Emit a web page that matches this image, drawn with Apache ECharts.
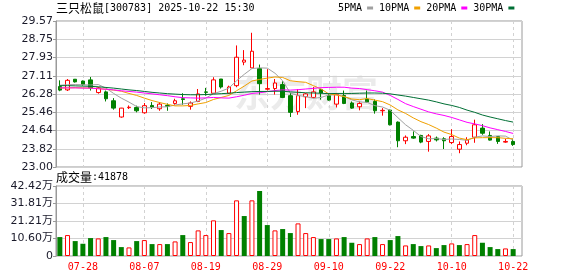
<!DOCTYPE html>
<html><head><meta charset="utf-8">
<script src="https://cdn.jsdelivr.net/npm/echarts@6/dist/echarts.min.js"></script>
<style>html,body{margin:0;padding:0;background:#fff}#c{width:578px;height:276px}</style>
</head><body><div id="c"></div>
<script>
const stockName = '三只松鼠';
const stockCode = '300783';
const stamp = '2025-10-22 15:30';
const dates = ['07-23','07-24','07-25','07-28','07-29','07-30','07-31','08-01','08-04','08-05','08-06','08-07','08-08','08-11','08-12','08-13','08-14','08-15','08-18','08-19','08-20','08-21','08-22','08-25','08-26','08-27','08-28','08-29','09-01','09-02','09-03','09-04','09-05','09-08','09-09','09-10','09-11','09-12','09-15','09-16','09-17','09-18','09-19','09-22','09-23','09-24','09-25','09-26','09-29','09-30','10-09','10-10','10-13','10-14','10-15','10-16','10-17','10-20','10-21','10-22'];
const opens = [26.62,26.47,26.95,26.87,26.92,26.35,26.38,25.98,25.25,25.67,25.68,25.44,25.77,25.62,25.77,25.86,26.07,25.73,25.95,26.38,26.32,26.96,26.32,26.66,27.72,27.46,27.43,26.50,26.53,26.71,26.21,25.50,26.16,26.13,26.48,26.21,25.83,26.22,25.88,25.71,26.06,25.95,25.53,25.56,25.02,24.18,24.37,24.42,24.15,24.30,24.27,24.10,23.80,24.07,24.34,24.75,24.42,24.37,24.12,24.15];
const closes = [26.46,26.90,26.83,26.71,26.56,26.56,26.07,25.65,25.65,25.69,25.53,25.76,25.70,25.83,25.73,25.98,26.04,25.88,26.29,26.36,26.92,26.60,26.60,27.94,27.81,28.21,26.75,26.53,26.78,26.13,25.46,26.21,26.29,26.38,26.33,26.01,26.26,25.86,25.65,25.86,25.92,25.53,25.55,24.90,24.18,24.34,24.30,24.12,24.40,24.22,24.18,24.37,24.01,24.22,24.90,24.52,24.21,24.15,24.15,24.01];
const lows = [26.41,26.42,26.80,26.66,26.44,26.30,25.95,25.58,25.22,25.61,25.46,25.40,25.61,25.53,25.53,25.80,25.80,25.58,25.92,26.21,26.29,26.53,26.29,26.59,27.58,27.46,26.26,26.44,26.26,26.10,25.25,25.35,25.65,26.10,26.03,25.98,25.68,25.83,25.62,25.55,25.89,25.40,25.31,24.87,23.89,24.03,24.27,24.07,23.69,24.15,23.81,24.03,23.62,23.98,24.09,24.45,24.19,24.04,24.09,23.95];
const highs = [26.90,26.96,26.96,26.89,27.05,26.59,26.44,26.10,25.66,25.77,25.76,25.88,25.92,25.92,25.86,26.07,26.32,25.95,26.51,26.56,27.04,26.96,26.66,28.47,28.26,29.04,27.61,27.40,26.96,26.86,26.33,26.51,26.33,26.60,26.51,26.33,26.33,26.44,25.95,25.95,26.44,26.04,25.65,25.58,25.05,24.42,24.60,24.45,24.48,24.37,24.34,24.70,24.15,24.34,25.13,24.93,24.60,24.37,24.27,24.27];
const volumes = [114700,126800,90400,74200,108600,106600,114700,96500,54000,52000,90400,96500,72200,72200,72200,88400,126800,84400,155200,126800,215900,157200,139000,337200,242200,337200,393900,187500,155200,163300,139000,197600,139000,114700,102600,102600,106600,114700,80300,72200,106600,114700,72200,96500,120800,64100,72200,60100,64100,47900,66200,76300,66200,72200,126800,80300,54000,41900,45900,41878];
const volUp = [0,1,0,0,0,1,0,0,0,1,0,1,0,1,0,1,0,1,1,1,1,0,1,1,0,1,0,0,1,0,0,1,1,1,0,0,1,0,0,1,1,0,1,0,0,1,0,0,1,0,0,1,0,1,1,0,0,0,1,0];
const ma5 = [26.68,26.70,26.71,26.70,26.69,26.71,26.55,26.31,26.10,25.92,25.72,25.66,25.67,25.70,25.71,25.79,25.84,25.88,25.97,26.10,26.30,26.41,26.55,26.88,27.17,27.43,27.46,27.45,27.22,26.88,26.33,26.22,26.17,26.09,26.13,26.24,26.25,26.17,26.02,25.93,25.91,25.76,25.70,25.55,25.22,24.90,24.65,24.37,24.27,24.28,24.24,24.26,24.24,24.20,24.34,24.40,24.37,24.40,24.39,24.21];
const ma10 = [26.55,26.56,26.57,26.56,26.55,26.53,26.50,26.46,26.41,26.31,26.22,26.10,25.99,25.90,25.82,25.75,25.75,25.77,25.84,25.90,26.04,26.13,26.22,26.43,26.64,26.87,26.94,27.00,27.05,27.03,26.88,26.84,26.81,26.66,26.51,26.29,26.24,26.17,26.06,26.03,26.08,26.01,25.94,25.79,25.57,25.41,25.21,25.04,24.91,24.75,24.57,24.46,24.30,24.23,24.31,24.32,24.32,24.32,24.29,24.27];
const ma20 = [26.56,26.56,26.56,26.55,26.55,26.52,26.50,26.47,26.43,26.40,26.37,26.33,26.29,26.25,26.21,26.16,26.12,26.11,26.10,26.11,26.13,26.11,26.10,26.16,26.23,26.31,26.34,26.39,26.44,26.47,26.46,26.48,26.51,26.54,26.57,26.58,26.59,26.59,26.55,26.53,26.48,26.43,26.37,26.22,26.04,25.85,25.72,25.60,25.48,25.39,25.32,25.23,25.12,25.01,24.94,24.86,24.76,24.68,24.60,24.51];
const ma30 = [26.66,26.66,26.65,26.64,26.63,26.61,26.58,26.55,26.51,26.47,26.44,26.40,26.36,26.33,26.30,26.28,26.26,26.25,26.25,26.26,26.28,26.30,26.32,26.35,26.37,26.39,26.40,26.40,26.41,26.41,26.38,26.36,26.34,26.33,26.32,26.30,26.31,26.31,26.31,26.32,26.33,26.33,26.32,26.29,26.24,26.19,26.13,26.07,26.01,25.93,25.84,25.77,25.68,25.56,25.46,25.34,25.25,25.17,25.09,25.02];
const priceTickLabels = ['23.00','23.82','24.64','25.46','26.28','27.11','27.93','28.75','29.57'];
const volTickLabels = ['0','10.60万','21.21万','31.81万','42.42万'];
const maNames = ['5PMA','10PMA','20PMA','30PMA'];

const UP = '#ff0000', DOWN = '#008000';
const GRID_LINE = '#d2d2d2', BORDER = '#9a9a9a';
const labelEvery = (i) => i % 8 === 3;
const yFont = "'DejaVu Sans','Noto Sans CJK SC',sans-serif";
const monoFont = "'DejaVu Sans Mono','Noto Sans CJK SC',monospace";
const cjkFont = "'Noto Sans CJK SC',sans-serif";

const candleData = dates.map((d, i) => [opens[i], closes[i], lows[i], highs[i]]);
const volData = volumes.map((v, i) => ({
  value: v,
  itemStyle: volUp[i] ? { color: '#ffffff', borderColor: UP, borderWidth: 1 } : { color: DOWN, borderWidth: 0 }
}));

const chart = echarts.init(document.getElementById('c'), null, { renderer: 'canvas' });
const dataX = (gridIndex, showLabels) => ({
  type: 'category', gridIndex, data: dates, boundaryGap: true,
  axisLine: { show: false }, axisTick: { show: false },
  axisLabel: { show: showLabels, interval: (i) => labelEvery(i), color: UP, fontFamily: monoFont, fontSize: 10, margin: 6 },
  splitLine: { show: true, interval: (i) => labelEvery(i), alignWithLabel: true, lineStyle: { color: GRID_LINE, type: [3, 3], width: 1 } }
});
const bgY = (gridIndex, max, labels) => ({
  type: 'value', gridIndex, min: 0, max: max, interval: 1, position: 'left',
  axisLine: { show: true, lineStyle: { color: BORDER } },
  axisTick: { show: true, length: 3, lineStyle: { color: BORDER } },
  axisLabel: { margin: 3, formatter: (v) => labels[Math.round(v)], fontFamily: yFont, fontSize: 11, color: '#1a1a2a' },
  splitLine: { show: true, lineStyle: { color: GRID_LINE, width: 1 } }
});
const maColors = ['#a0a0a0', '#f0a000', '#ff00ff', '#006f35'];
const maData = [ma5, ma10, ma20, ma30];
const richText = {
  a: { fontFamily: cjkFont, fontSize: 12, fontWeight: 'normal', color: '#000' },
  b: { fontFamily: monoFont, fontSize: 10, fontWeight: 'normal', color: '#000' }
};

chart.setOption({
  animation: false,
  backgroundColor: '#ffffff',
  title: [
    { left: 56, top: 2, padding: 0, text: '{a|' + stockName + '}{b|[' + stockCode + '] ' + stamp + '}',
      textStyle: { fontWeight: 'normal', rich: richText } },
    { left: 56, top: 171, padding: 0, text: '{a|成交量}{b|:' + volumes[volumes.length - 1] + '}',
      textStyle: { fontWeight: 'normal', rich: richText } }
  ],
  legend: {
    left: 338, top: 3, padding: 0, itemGap: 6, itemWidth: 6, itemHeight: 3, icon: 'rect', align: 'right',
    selectedMode: false, data: maNames,
    textStyle: { fontFamily: monoFont, fontSize: 10, color: '#000' }
  },
  graphic: [{ type: 'text', left: 234, top: 75, z: 0, silent: true,
    style: { text: '东方财富', fontSize: 36, fontWeight: 'bold', fontFamily: cjkFont, fill: '#ebebeb' } }],
  grid: [
    { left: 56, top: 21, width: 461, height: 146 },
    { left: 56, top: 186, width: 461, height: 70 },
    { left: 56, top: 21, width: 466, height: 146, show: true, borderColor: BORDER, borderWidth: 1, backgroundColor: 'transparent' },
    { left: 56, top: 186, width: 466, height: 70, show: true, borderColor: BORDER, borderWidth: 1, backgroundColor: 'transparent' }
  ],
  xAxis: [
    dataX(0, false),
    dataX(1, true),
    { type: 'value', gridIndex: 2, min: 0, max: 1, show: false },
    { type: 'value', gridIndex: 3, min: 0, max: 1, show: false }
  ],
  yAxis: [
    { type: 'value', gridIndex: 0, min: 23.00, max: 29.57, show: false, splitLine: { show: false } },
    { type: 'value', gridIndex: 1, min: 0, max: 424200, show: false, splitLine: { show: false } },
    bgY(2, 8, priceTickLabels),
    bgY(3, 4, volTickLabels)
  ],
  series: [
    { type: 'candlestick', name: 'K', xAxisIndex: 0, yAxisIndex: 0, data: candleData, barWidth: 4,
      itemStyle: { color: '#ffffff', color0: DOWN, borderColor: UP, borderColor0: DOWN, borderWidth: 1 } },
    ...maNames.map((n, k) => ({
      type: 'line', name: n, xAxisIndex: 0, yAxisIndex: 0, data: maData[k], symbol: 'none', showSymbol: false,
      lineStyle: { width: 1, color: maColors[k] }, itemStyle: { color: maColors[k] }, z: 3
    })),
    { type: 'bar', name: 'VOL', xAxisIndex: 1, yAxisIndex: 1, data: volData, barWidth: 5 }
  ]
});
</script></body></html>
